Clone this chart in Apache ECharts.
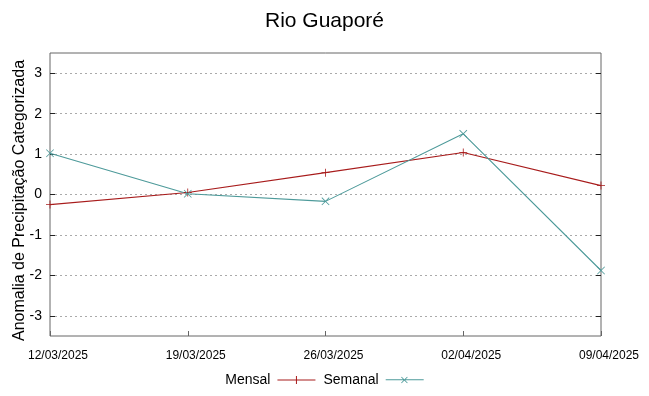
<!DOCTYPE html>
<html><head><meta charset="utf-8">
<script src="https://cdn.jsdelivr.net/npm/echarts@6/dist/echarts.min.js"></script>
<style>html,body{margin:0;padding:0;background:#fff}#c{width:649px;height:396px}</style>
</head><body><div id="c"></div>
<script>
const categories = ['12/03/2025','19/03/2025','26/03/2025','02/04/2025','09/04/2025'];
const mensal = [-0.25, 0.05, 0.54, 1.04, 0.22];
const semanal = [1.02, 0.02, -0.17, 1.50, -1.88];
const yTicks = [-3, -2, -1, 0, 1, 2, 3];

const plusPath = 'path://M4.5,0 L5.5,0 L5.5,10 L4.5,10 Z M0,4.5 L10,4.5 L10,5.5 L0,5.5 Z';
const crossPath = 'path://M0.7,0 L10,9.3 L9.3,10 L0,0.7 Z M9.3,0 L10,0.7 L0.7,10 L0,9.3 Z';
const legPlus = 'path://M0,4.5 L38,4.5 L38,5.5 L0,5.5 Z M18.5,1 L19.5,1 L19.5,9 L18.5,9 Z';
const legCross = 'path://M0,4.5 L38,4.5 L38,5.5 L0,5.5 Z M16,2 L22,8 L21.4,8.6 L15.4,2.6 Z M21.4,2 L22,2.6 L16,8.6 L15.4,8 Z';

const red = '#a81c1c', teal = '#4d9a9a';
const font = 'Liberation Sans';
const chart = echarts.init(document.getElementById('c'));
const yCommon = {
  type: 'value', min: -3.5, max: 3.5,
  axisLine: {show: false},
  axisTick: {show: true, inside: true, length: 5, customValues: yTicks, lineStyle: {color: '#222'}},
};
chart.setOption({
  animation: false,
  title: {text: 'Rio Guaporé', left: 'center', top: 6,
    textStyle: {fontFamily: font, fontSize: 21, fontWeight: 'normal', color: '#000'}},
  grid: {left: 50, right: 48, top: 53, bottom: 60, show: true, borderColor: '#666', borderWidth: 1,
    containLabel: false, outerBoundsMode: 'none'},
  legend: {bottom: 4, left: 'center', align: 'right', itemWidth: 38, itemHeight: 10, itemGap: 8,
    textStyle: {fontFamily: font, fontSize: 14, color: '#000', padding: [0, 2, 0, 0]},
    data: [{name: 'Mensal', icon: legPlus}, {name: 'Semanal', icon: legCross}]},
  xAxis: [{type: 'category', data: categories, boundaryGap: false,
    axisLine: {show: false, onZero: false},
    axisTick: {show: true, inside: true, length: 5, lineStyle: {color: '#666'}},
    axisLabel: {fontFamily: font, fontSize: 12, color: '#000', margin: 14, padding: [0, 0, 0, 16]},
    splitLine: {show: false}}],
  yAxis: [
    Object.assign({}, yCommon, {position: 'left',
      name: 'Anomalia de Precipitação Categorizada', nameLocation: 'middle', nameGap: 22,
      nameMoveOverlap: false,
      nameTextStyle: {fontFamily: font, fontSize: 16, color: '#000', padding: [0, 12, 0, 0]},
      axisLabel: {fontFamily: font, fontSize: 14, color: '#000', margin: 8, customValues: yTicks},
      splitLine: {show: false}}),
    Object.assign({}, yCommon, {position: 'right', axisLabel: {show: false}, splitLine: {show: false}})
  ],
  series: [
    {name: 'Mensal', type: 'line', data: mensal, symbol: plusPath, symbolSize: 8,
      lineStyle: {color: red, width: 1.1}, itemStyle: {color: red},
      markLine: {silent: true, symbol: 'none', label: {show: false}, z: 0,
        lineStyle: {color: '#aaa', type: [2, 3], width: 1},
        data: yTicks.map(v => ({yAxis: v}))}},
    {name: 'Semanal', type: 'line', data: semanal, symbol: crossPath, symbolSize: 8,
      lineStyle: {color: teal, width: 1.1}, itemStyle: {color: teal}}
  ]
});
</script></body></html>
